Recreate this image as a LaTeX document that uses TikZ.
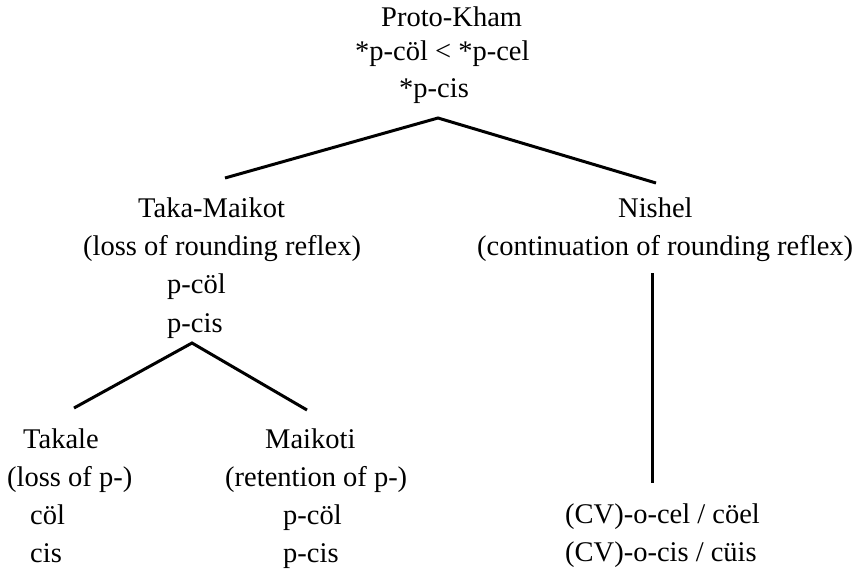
\documentclass[tikz,border=0pt]{standalone}
\usepackage{fontspec}
\setmainfont{Liberation Serif}
\begin{document}
\begin{tikzpicture}[x=1pt,y=-1pt,
  lbl/.style={anchor=base west,inner sep=0pt,font=\fontsize{28.5}{34}\selectfont},
  branch/.style={line width=3pt,line cap=butt}]
\useasboundingbox (0,0) rectangle (857,571);
% root
\node[lbl] (pk1) at (381,26) {Proto-Kham};
\node[lbl] (pk2) at (355,60) {*p-cöl < *p-cel};
\node[lbl] (pk3) at (399,97) {*p-cis};
% Taka-Maikot
\node[lbl] (tm1) at (138,217) {Taka-Maikot};
\node[lbl] (tm2) at (83,255) {(loss of rounding reflex)};
\node[lbl] (tm3) at (167,293) {p-cöl};
\node[lbl] (tm4) at (167,332) {p-cis};
% Nishel
\node[lbl] (ni1) at (618,217) {Nishel};
\node[lbl] (ni2) at (477,255) {(continuation of rounding reflex)};
\node[lbl] (ni3) at (565,523) {(CV)-o-cel / cöel};
\node[lbl] (ni4) at (565,561) {(CV)-o-cis / cüis};
% Takale
\node[lbl] (ta1) at (23,448) {Takale};
\node[lbl] (ta2) at (7,486) {(loss of p-)};
\node[lbl] (ta3) at (30,524) {cöl};
\node[lbl] (ta4) at (30,562) {cis};
% Maikoti
\node[lbl] (ma1) at (265,448) {Maikoti};
\node[lbl] (ma2) at (225,486) {(retention of p-)};
\node[lbl] (ma3) at (283,524) {p-cöl};
\node[lbl] (ma4) at (283,562) {p-cis};
% connector points
\coordinate (top) at (438,118);
\coordinate (topL) at (225,178);
\coordinate (topR) at (656,183);
\coordinate (mid) at (192,343);
\coordinate (midL) at (74,408);
\coordinate (midR) at (307,410);
\coordinate (niA) at (652,273);
\coordinate (niB) at (652,483);
\draw[branch] (topL) -- (top) -- (topR);
\draw[branch] (midL) -- (mid) -- (midR);
\draw[branch] (niA) -- (niB);
\end{tikzpicture}
\end{document}
